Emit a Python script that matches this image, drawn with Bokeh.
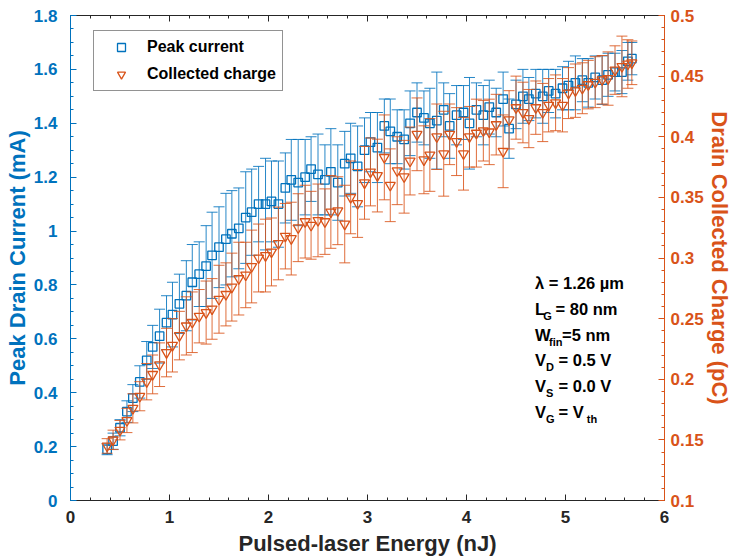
from bokeh.plotting import figure
from bokeh.models import (Range1d, LinearAxis, FixedTicker, CustomJSTickFormatter,
                          CustomLabelingPolicy, ColumnDataSource, Legend, LegendItem, Label)
from bokeh.embed import file_html
from bokeh.resources import INLINE

# ---------------- data ----------------
energy = [0.37, 0.43, 0.50, 0.57, 0.63, 0.70, 0.77, 0.83, 0.90, 0.97,
          1.03, 1.10, 1.17, 1.23, 1.30, 1.37, 1.43, 1.50, 1.57, 1.63,
          1.70, 1.77, 1.83, 1.90, 1.97, 2.03, 2.10, 2.17, 2.23, 2.30,
          2.37, 2.43, 2.50, 2.57, 2.63, 2.70, 2.77, 2.83, 2.90, 2.97,
          3.03, 3.10, 3.17, 3.23, 3.30, 3.37, 3.43, 3.50, 3.57, 3.63,
          3.70, 3.77, 3.83, 3.90, 3.97, 4.03, 4.10, 4.17, 4.23, 4.30,
          4.37, 4.43, 4.50, 4.57, 4.63, 4.70, 4.77, 4.83, 4.90, 4.97,
          5.03, 5.10, 5.17, 5.23, 5.30, 5.37, 5.43, 5.50, 5.57, 5.63, 5.67]

peak_current = [0.19, 0.22, 0.27, 0.33, 0.38, 0.44, 0.52, 0.57, 0.61, 0.66,
                0.69, 0.73, 0.76, 0.81, 0.84, 0.87, 0.91, 0.94, 0.97, 0.99,
                1.01, 1.05, 1.07, 1.10, 1.10, 1.11, 1.10, 1.16, 1.19, 1.18,
                1.20, 1.23, 1.21, 1.19, 1.22, 1.18, 1.25, 1.27, 1.24, 1.30,
                1.33, 1.31, 1.39, 1.37, 1.35, 1.34, 1.40, 1.44, 1.42, 1.40,
                1.41, 1.45, 1.39, 1.43, 1.44, 1.40, 1.45, 1.43, 1.46, 1.44,
                1.49, 1.38, 1.47, 1.50, 1.49, 1.51, 1.50, 1.52, 1.51, 1.53,
                1.54, 1.55, 1.56, 1.55, 1.57, 1.56, 1.58, 1.59, 1.59, 1.63, 1.64]

peak_err = [0.02, 0.03, 0.03, 0.04, 0.05, 0.06, 0.07, 0.08, 0.10, 0.10,
            0.12, 0.11, 0.13, 0.14, 0.12, 0.15, 0.16, 0.15, 0.17, 0.16,
            0.15, 0.17, 0.16, 0.14, 0.17, 0.15, 0.16, 0.13, 0.15, 0.16,
            0.14, 0.12, 0.15, 0.13, 0.16, 0.14, 0.12, 0.13, 0.15, 0.12,
            0.11, 0.13, 0.10, 0.12, 0.10, 0.11, 0.12, 0.11, 0.10, 0.13,
            0.18, 0.10, 0.12, 0.11, 0.10, 0.17, 0.10, 0.11, 0.10, 0.09,
            0.10, 0.11, 0.09, 0.10, 0.08, 0.09, 0.10, 0.08, 0.09, 0.08,
            0.09, 0.10, 0.08, 0.09, 0.08, 0.09, 0.08, 0.07, 0.08, 0.07, 0.06]

charge = [0.145, 0.150, 0.158, 0.166, 0.176, 0.186, 0.198, 0.204, 0.212, 0.222,
          0.228, 0.236, 0.244, 0.247, 0.252, 0.255, 0.258, 0.266, 0.270, 0.276,
          0.283, 0.286, 0.293, 0.300, 0.302, 0.305, 0.312, 0.318, 0.316, 0.325,
          0.330, 0.327, 0.331, 0.330, 0.338, 0.339, 0.328, 0.350, 0.345, 0.362,
          0.371, 0.368, 0.383, 0.360, 0.372, 0.367, 0.380, 0.402, 0.381, 0.385,
          0.400, 0.386, 0.402, 0.396, 0.386, 0.400, 0.403, 0.405, 0.404, 0.410,
          0.388, 0.414, 0.424, 0.420, 0.415, 0.424, 0.420, 0.426, 0.428, 0.426,
          0.436, 0.438, 0.440, 0.443, 0.445, 0.447, 0.448, 0.455, 0.458, 0.460, 0.461]

charge_err = [0.006, 0.008, 0.008, 0.010, 0.012, 0.012, 0.015, 0.016, 0.018, 0.020,
              0.022, 0.020, 0.024, 0.025, 0.022, 0.026, 0.025, 0.028, 0.026, 0.028,
              0.030, 0.027, 0.030, 0.028, 0.030, 0.028, 0.030, 0.027, 0.030, 0.028,
              0.030, 0.028, 0.030, 0.027, 0.030, 0.028, 0.032, 0.030, 0.028, 0.030,
              0.028, 0.030, 0.035, 0.030, 0.028, 0.030, 0.028, 0.030, 0.028, 0.030,
              0.027, 0.035, 0.025, 0.028, 0.030, 0.025, 0.028, 0.025, 0.027, 0.025,
              0.030, 0.024, 0.026, 0.025, 0.024, 0.022, 0.024, 0.022, 0.023, 0.022,
              0.021, 0.022, 0.021, 0.020, 0.021, 0.020, 0.022, 0.020, 0.025, 0.020, 0.018]

x_ticks = [0, 1, 2, 3, 4, 5, 6]
left_ticks = [0, 0.2, 0.4, 0.6, 0.8, 1.0, 1.2, 1.4, 1.6, 1.8]
right_ticks = [0.1, 0.15, 0.2, 0.25, 0.3, 0.35, 0.4, 0.45, 0.5]

# ---------------- styling ----------------
BLUE = "#0072BD"
ORANGE = "#D95319"
DARK = "#262626"
FONT = "Liberation Sans"

p = figure(width=735, height=558, x_range=Range1d(0, 6), y_range=Range1d(0, 1.8),
           x_axis_type=None, y_axis_type=None, output_backend="svg",
           toolbar_location=None, min_border_left=70, min_border_right=71,
           min_border_top=14, min_border_bottom=56)
p.extra_y_ranges = {"q": Range1d(0.1, 0.5)}
p.outline_line_color = None
p.background_fill_color = "white"
p.border_fill_color = "white"

fmt = CustomJSTickFormatter(code="return String(parseFloat(tick.toFixed(3)));")

x_minor = [round(i * 0.2, 3) for i in range(31)]
l_minor = [round(i * 0.05, 3) for i in range(37)]
r_minor = [round(0.1 + i * 0.01, 3) for i in range(41)]


def style(ax, color, label_standoff, axis_label_standoff, label_size="22px"):
    ax.axis_line_color = color
    ax.axis_line_width = 1
    ax.major_tick_line_color = color
    ax.minor_tick_line_color = color
    ax.major_tick_in = 6
    ax.major_tick_out = 0
    ax.minor_tick_in = 3
    ax.minor_tick_out = 0
    ax.major_label_text_color = color
    ax.major_label_text_font = FONT
    ax.major_label_text_font_style = "bold"
    ax.major_label_text_font_size = "17px"
    ax.major_label_standoff = label_standoff
    ax.axis_label_text_color = color
    ax.axis_label_text_font = FONT
    ax.axis_label_text_font_style = "bold"
    ax.axis_label_text_font_size = label_size
    ax.axis_label_standoff = axis_label_standoff
    ax.formatter = fmt


xb = LinearAxis(ticker=FixedTicker(ticks=x_ticks, minor_ticks=x_minor),
                axis_label="Pulsed-laser Energy (nJ)")
style(xb, DARK, 10, 5)
p.add_layout(xb, "below")

# top box edge with inward ticks, no labels
xt = LinearAxis(ticker=FixedTicker(ticks=x_ticks, minor_ticks=x_minor),
                major_label_policy=CustomLabelingPolicy(
                    code="for (const i of Array.from(indices)) { indices.unset(i) } return indices"))
style(xt, DARK, 0, 0)
p.add_layout(xt, "above")

yl = LinearAxis(ticker=FixedTicker(ticks=left_ticks, minor_ticks=l_minor),
                axis_label="Peak Drain Current (mA)")
style(yl, BLUE, 13, 1, "22px")
p.add_layout(yl, "left")

yr = LinearAxis(y_range_name="q", ticker=FixedTicker(ticks=right_ticks, minor_ticks=r_minor),
                axis_label="Drain Collected Charge (pC)")
style(yr, ORANGE, 6, 0, "22px")
p.add_layout(yr, "right")

# ---------------- data sources ----------------
src_b = ColumnDataSource(dict(
    x=energy, y=peak_current,
    lo=[v - e for v, e in zip(peak_current, peak_err)],
    up=[v + e for v, e in zip(peak_current, peak_err)]))
src_o = ColumnDataSource(dict(
    x=energy, y=charge,
    lo=[v - e for v, e in zip(charge, charge_err)],
    up=[v + e for v, e in zip(charge, charge_err)]))

# blue series: error bars + squares
p.segment(x0="x", y0="lo", x1="x", y1="up", source=src_b, line_color=BLUE,
          line_width=1, line_alpha=0.85)
p.scatter(x="x", y="up", source=src_b, marker="dash", size=11, line_color=BLUE,
          line_width=1, line_alpha=0.85)
p.scatter(x="x", y="lo", source=src_b, marker="dash", size=11, line_color=BLUE,
          line_width=1, line_alpha=0.85)
rb = p.scatter(x="x", y="y", source=src_b, marker="square", size=8.5,
               line_color=BLUE, fill_color=None, line_width=1.3)

# orange series: error bars + inverted triangles
p.segment(x0="x", y0="lo", x1="x", y1="up", source=src_o, line_color=ORANGE,
          line_width=1, line_alpha=0.85, y_range_name="q")
p.scatter(x="x", y="up", source=src_o, marker="dash", size=11, line_color=ORANGE,
          line_width=1, line_alpha=0.85, y_range_name="q")
p.scatter(x="x", y="lo", source=src_o, marker="dash", size=11, line_color=ORANGE,
          line_width=1, line_alpha=0.85, y_range_name="q")
ro = p.scatter(x="x", y="y", source=src_o, marker="inverted_triangle", size=10,
               line_color=ORANGE, fill_color=None, line_width=1.3, y_range_name="q")

# ---------------- legend ----------------
legend = Legend(items=[LegendItem(label="Peak current", renderers=[rb]),
                       LegendItem(label="Collected charge", renderers=[ro])],
                location=(23, 409), margin=0, padding=6, spacing=7,
                glyph_width=42, glyph_height=20, label_height=20, label_standoff=5,
                border_line_color=DARK, border_line_width=1,
                background_fill_color="white", background_fill_alpha=1,
                label_text_font=FONT, label_text_font_style="bold",
                label_text_font_size="16px", label_text_color="black")
p.add_layout(legend)

# ---------------- annotation text ----------------
def lab(x, y, t, size="16.5px"):
    p.add_layout(Label(x=x, y=y, text=t, text_font=FONT, text_font_style="bold",
                       text_font_size=size, text_color="black",
                       text_baseline="middle", text_align="left"))

sub = 0.026
lab(4.693, 0.808, "λ = 1.26 µm")
lab(4.693, 0.712, "L"); lab(4.774, 0.712 - sub, "G", "11px"); lab(4.90, 0.712, "= 80 nm")
lab(4.693, 0.616, "W"); lab(4.834, 0.616 - sub, "fin", "11px"); lab(4.965, 0.616, "=5 nm")
lab(4.693, 0.520, "V"); lab(4.804, 0.520 - sub, "D", "11px"); lab(4.93, 0.520, "= 0.5 V")
lab(4.693, 0.424, "V"); lab(4.804, 0.424 - sub, "S", "11px"); lab(4.93, 0.424, "= 0.0 V")
lab(4.693, 0.328, "V"); lab(4.804, 0.328 - sub, "G", "11px"); lab(4.93, 0.328, "= V")
lab(5.215, 0.328 - sub, "th", "11px")

open("out.html", "w").write(file_html(p, INLINE))
